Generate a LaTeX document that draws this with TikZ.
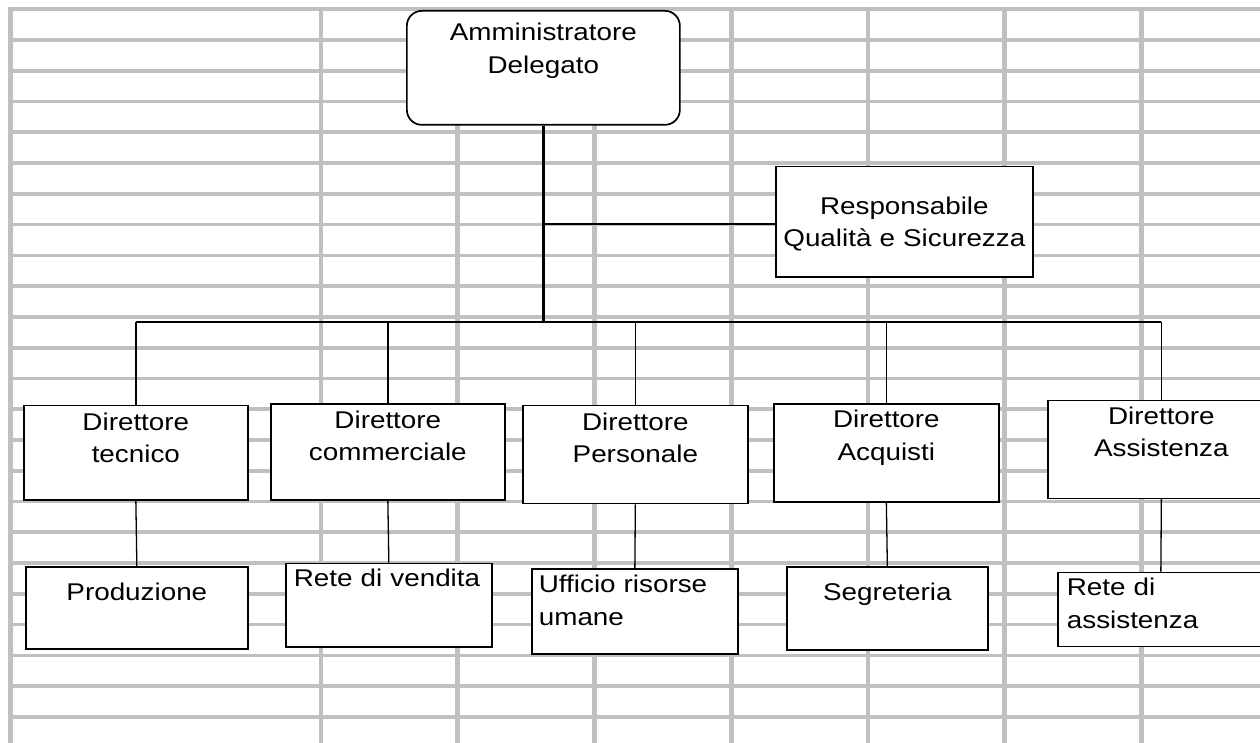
\documentclass[tikz,border=0pt]{standalone}
\usepackage{fontspec}
\newfontfamily\orgfont[FakeStretch=1.15]{Liberation Sans}
\usepackage{tikz}
\definecolor{gridgray}{RGB}{192,192,192}
\tikzset{
	hgrid/.style={draw=gridgray, line width=3.7pt},
	vgrid/.style={draw=gridgray, line width=4.6pt},
	orgbox/.style={draw, fill=white, line width=1.7pt, inner sep=0pt, anchor=north west, font=\orgfont\fontsize{24.2}{32.3}\selectfont},
	link/.style={line width=1.3pt}
}

\begin{document}
\begin{tikzpicture}[x=1pt, y=-1pt]
	\useasboundingbox (0,0) rectangle (1260,743);
	\clip (0,0) rectangle (1260,743);
	\fill[white] (0,0) rectangle (1260,743);

	% Sheet grid
	\foreach \k in {0,...,23}
		\draw[hgrid] (8,9.2+30.77*\k) -- (1260,9.2+30.77*\k);
	\draw[vgrid] (10.3,7.4) -- (10.3,743);
	\foreach \k in {0,...,6}
		\draw[vgrid] (321+136.75*\k,7.4) -- (321+136.75*\k,743);

	% Levels 1 and 2
	\node[orgbox, rounded corners=15pt, align=center, text width=273pt, text height=30pt, text depth=84pt] (1AD) at (406,10) {Amministratore\\Delegato};
	\node[orgbox, align=center, text width=257pt, text height=47.6pt, text depth=62.7pt] (2RQS) at (775,165.7) {Responsabile\\Qualità e Sicurezza};
	\coordinate (2qs) at (542,224);
	\coordinate (2bus) at (542,322);

	% Level 3
	\node[orgbox, align=center, text width=224pt, text height=24.6pt, text depth=69.7pt] (3DT) at (23,404.7) {Direttore\\tecnico};
	\node[orgbox, align=center, text width=234pt, text height=24.3pt, text depth=71.7pt] (3DC) at (270,403) {Direttore\\commerciale};
	\node[orgbox, align=center, text width=225pt, text height=24.6pt, text depth=73.4pt] (3DP) at (522,404.7) {Direttore\\Personale};
	\node[orgbox, align=center, text width=225pt, text height=24pt, text depth=74pt] (3DA) at (773,403) {Direttore\\Acquisti};
	\node[orgbox, align=center, text width=227pt, text height=23.8pt, text depth=74.2pt] (3DAs) at (1047,399.5) {Direttore\\Assistenza};

	% Level 4
	\node[orgbox, align=center, text width=222pt, text height=33.7pt, text depth=48.3pt] (4Prod) at (25,566) {Produzione};
	\node[orgbox, align=left, inner xsep=8pt, text width=190pt, text height=23.3pt, text depth=60pt] (4RV) at (285,562.7) {Rete di vendita};
	\node[orgbox, align=left, inner xsep=7pt, text width=192pt, text height=24pt, text depth=61pt] (4URU) at (531,568) {Ufficio risorse\\umane};
	\node[orgbox, align=center, text width=201pt, text height=33.3pt, text depth=49.7pt] (4Segr) at (786,566) {Segreteria};
	\node[orgbox, align=left, inner xsep=9pt, text width=188pt, text height=23.3pt, text depth=50.7pt] (4RA) at (1057,571.7) {Rete di\\assistenza};

	% Connections
	\draw[line width=2.4pt] (1AD.south) -- (1AD.south |- 2bus);
	\draw[line width=1.7pt] (2qs) -- (2qs -| 2RQS.west);
	\draw[line width=2pt] (3DT.north |- 2bus) -- (3DAs.north |- 2bus);
	\draw[link] (3DT.north |- 2bus) -- (3DT.north);
	\draw[link] (3DC.north |- 2bus) -- (3DC.north);
	\draw[link] (3DP.north |- 2bus) -- (3DP.north);
	\draw[link] (3DA.north |- 2bus) -- (3DA.north);
	\draw[link] (3DAs.north |- 2bus) -- (3DAs.north);
	\draw[link] (3DT.south) -- (4Prod.north);
	\draw[link] (3DC.south) -- (4RV.north);
	\draw[link] (3DP.south) -- (4URU.north);
	\draw[link] (3DA.south) -- (4Segr.north);
	\draw[link] (3DAs.south) -- (4RA.north);
\end{tikzpicture}
\end{document}
